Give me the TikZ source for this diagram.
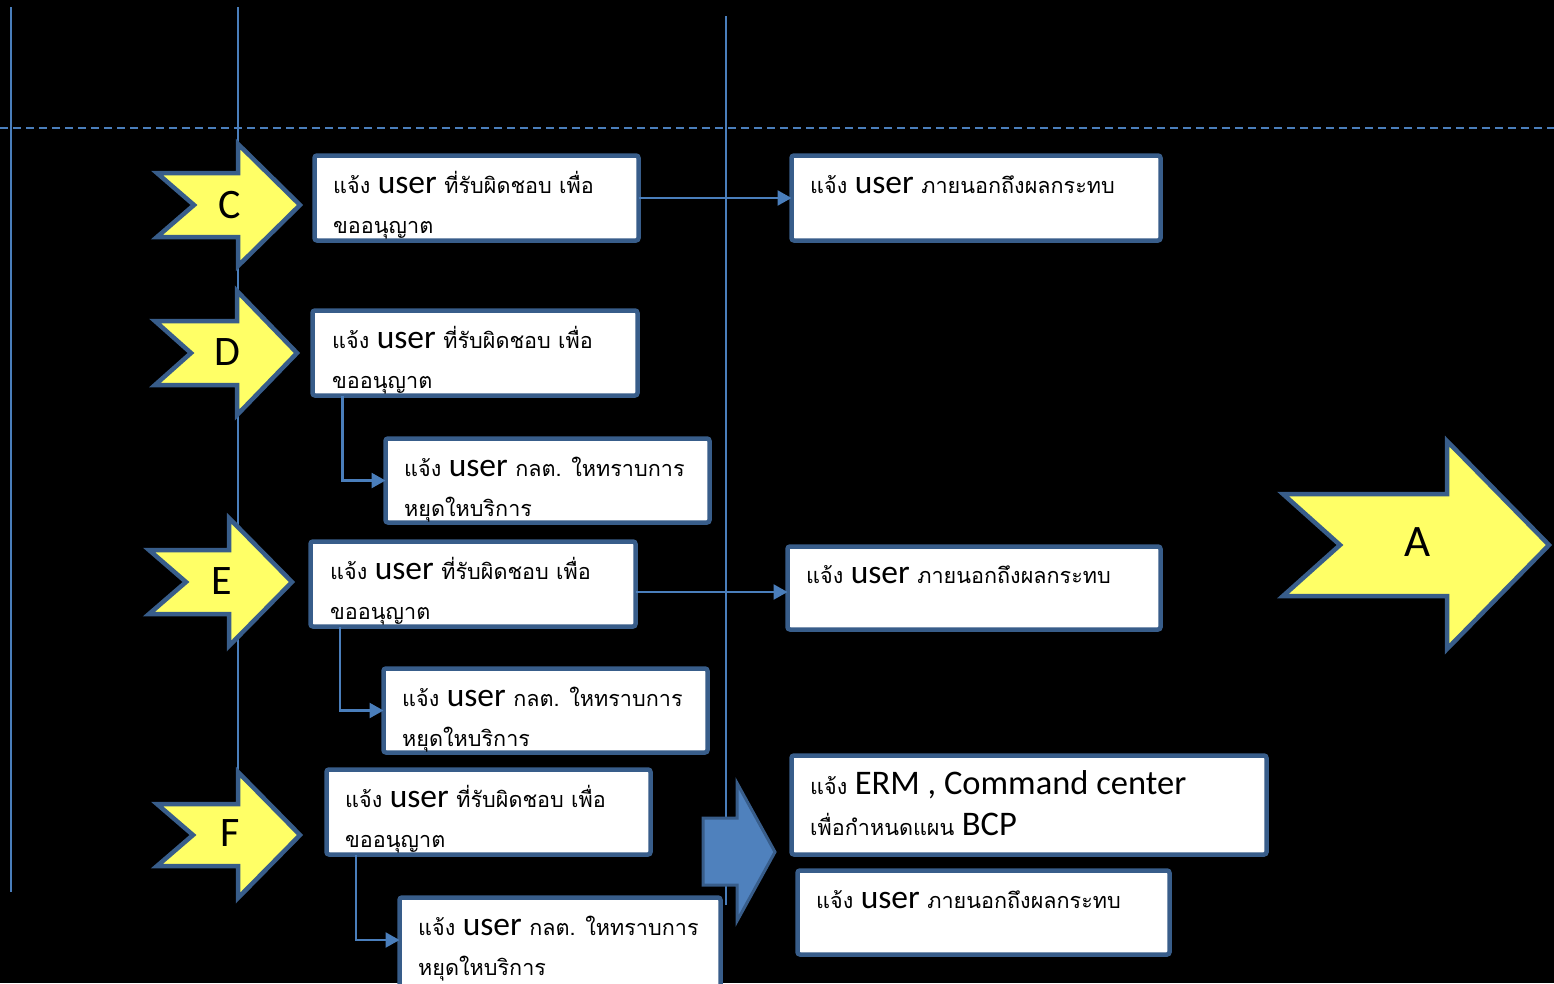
\documentclass[tikz,border=0pt]{standalone}
\usepackage{fontspec}
\setmainfont{Carlito}
\newfontfamily\thfont[Script=Thai]{Loma}
\usetikzlibrary{arrows.meta}
\definecolor{boxblue}{RGB}{56,93,138}
\definecolor{lineblue}{RGB}{74,126,187}
\definecolor{yfill}{RGB}{255,255,102}
\definecolor{bfill}{RGB}{79,129,189}
\newcommand\thai[1]{{\thfont\fontsize{21.6}{24}\selectfont #1}}
\newcommand\lat[1]{{\fontsize{33.5}{36}\selectfont #1}}
% notched yellow arrow: #1 centre y, #2 tail x, #3 notch x, #4 head base x, #5 tip x,
% #6 shaft half height, #7 head half height
\newcommand\notched[7]{%
  \draw[yarrow] (#2,#1-#6) -- (#4,#1-#6) -- (#4,#1-#7) -- (#5,#1) -- (#4,#1+#7)
    -- (#4,#1+#6) -- (#2,#1+#6) -- (#3,#1) -- cycle;}
\tikzset{
  box/.style={draw=boxblue, line width=4.5pt, fill=white, rounded corners=2.5pt,
    inner sep=0pt, outer sep=0pt, anchor=north west},
  conn/.style={draw=lineblue, line width=2.5pt,
    -{Triangle[length=14pt,width=15pt]}},
  guide/.style={draw=lineblue, line width=1.5pt},
  yarrow/.style={draw=boxblue, line width=4.5pt, fill=yfill, line join=miter},
  barrow/.style={draw=boxblue, line width=3pt, fill=bfill, line join=miter},
  txt/.style={anchor=base west, inner sep=0pt, text=black, font=\fontsize{33}{36}\selectfont},
  big/.style={inner sep=0pt, text=black, font=\fontsize{42}{44}\selectfont},
}
\begin{document}
\begin{tikzpicture}[x=1pt,y=-1pt]
\fill[black] (0,0) rectangle (1554,983);
\useasboundingbox (0,0) rectangle (1554,983);

% swimlane guides
\coordinate (g1t) at (11,7);    \coordinate (g1b) at (11,892);
\coordinate (g2t) at (238,7);   \coordinate (g2b) at (238,780);
\coordinate (g3t) at (726,16);  \coordinate (g3b) at (726,905);
\coordinate (dl) at (0,128);    \coordinate (dr) at (1554,128);
\draw[guide] (g1t) -- (g1b);
\draw[guide] (g2t) -- (g2b);
\draw[guide] (g3t) -- (g3b);
\draw[guide, line width=2pt, dash pattern=on 8pt off 5pt] (dl) -- (dr);

% boxes
\node[box, minimum width=324pt, minimum height=85pt] (c1) at (314.5,155.5) {};
\node[box, minimum width=369pt, minimum height=85pt] (c2) at (791.5,155.5) {};
\node[box, minimum width=325pt, minimum height=85pt] (d1) at (312.5,310.5) {};
\node[box, minimum width=324pt, minimum height=84pt] (d2) at (385.5,438.5) {};
\node[box, minimum width=325pt, minimum height=85pt] (e1) at (310.5,541.5) {};
\node[box, minimum width=373pt, minimum height=83pt] (e2) at (787.5,546.5) {};
\node[box, minimum width=324pt, minimum height=84pt] (e3) at (383.5,668.5) {};
\node[box, minimum width=324pt, minimum height=85pt] (f1) at (326.5,769.5) {};
\node[box, minimum width=321pt, minimum height=92pt] (f2) at (399.5,897.5) {};
\node[box, minimum width=475pt, minimum height=99pt] (erm) at (791.5,755.5) {};
\node[box, minimum width=372pt, minimum height=84pt] (ext) at (797.5,870.5) {};

% connectors
\draw[conn] (c1.east) -- (c1.east -| c2.west);
\draw[conn] ([yshift=-8pt]e1.east) coordinate (ea) -- (ea -| e2.west);
\draw[conn] ([xshift=30pt]d1.south west) |- (d2.west);
\draw[conn] ([xshift=29.5pt]e1.south west) |- (e3.west);
\draw[conn] ([xshift=29.5pt]f1.south west) |- ([yshift=3.5pt]f2.west);

% yellow arrows
\notched{205}{157}{194}{238}{300}{32}{61}
\notched{353}{155}{191}{237}{297}{32}{62}
\notched{582}{149}{186}{229}{292}{32}{64}
\notched{835}{157}{193}{238}{300}{31}{63}
\notched{545}{1283}{1340}{1447}{1549}{51}{104}
\node[big] (lc) at (230,205) {C};
\node[big] (ld) at (227,352) {D};
\node[big] (le) at (222,581) {E};
\node[big] (lf) at (230,833) {F};
\node[big, font=\fontsize{45}{46}\selectfont] (la) at (1417,542) {A};

% blue block arrow
\draw[barrow] (703,818) -- (737,818) -- (737,783) -- (775,852) -- (737,921)
  -- (737,885) -- (703,885) -- cycle;

% texts
\node[txt] (c1a) at (333,193) {\thai{แจ้ง} \lat{user} \thai{ที่รับผิดชอบ เพื่อ}};
\node[txt] (c1b) at (333,233) {\thai{ขออนุญาต}};
\node[txt] (c2a) at (810,193) {\thai{แจ้ง} \lat{user} \thai{ภายนอกถึงผลกระทบ}};
\node[txt] (d1a) at (332,348) {\thai{แจ้ง} \lat{user} \thai{ที่รับผิดชอบ เพื่อ}};
\node[txt] (d1b) at (332,388) {\thai{ขออนุญาต}};
\node[txt] (d2a) at (404,476) {\thai{แจ้ง} \lat{user} \thai{กลต. ใหทราบการ}};
\node[txt] (d2b) at (404,516) {\thai{หยุดใหบริการ}};
\node[txt] (e1a) at (330,579) {\thai{แจ้ง} \lat{user} \thai{ที่รับผิดชอบ เพื่อ}};
\node[txt] (e1b) at (330,619) {\thai{ขออนุญาต}};
\node[txt] (e2a) at (806,583) {\thai{แจ้ง} \lat{user} \thai{ภายนอกถึงผลกระทบ}};
\node[txt] (e3a) at (402,706) {\thai{แจ้ง} \lat{user} \thai{กลต. ใหทราบการ}};
\node[txt] (e3b) at (402,746) {\thai{หยุดใหบริการ}};
\node[txt] (f1a) at (345,807) {\thai{แจ้ง} \lat{user} \thai{ที่รับผิดชอบ เพื่อ}};
\node[txt] (f1b) at (345,847) {\thai{ขออนุญาต}};
\node[txt] (f2a) at (418,935) {\thai{แจ้ง} \lat{user} \thai{กลต. ใหทราบการ}};
\node[txt] (f2b) at (418,975) {\thai{หยุดใหบริการ}};
\node[txt] (erma) at (810,794) {\thai{แจ้ง} {\fontsize{34.5}{36}\selectfont ERM , Command center}};
\node[txt] (ermb) at (810,835) {\thai{เพื่อกำหนดแผน} {\fontsize{34.5}{36}\selectfont BCP}};
\node[txt] (exta) at (816,908) {\thai{แจ้ง} \lat{user} \thai{ภายนอกถึงผลกระทบ}};
\end{tikzpicture}
\end{document}
